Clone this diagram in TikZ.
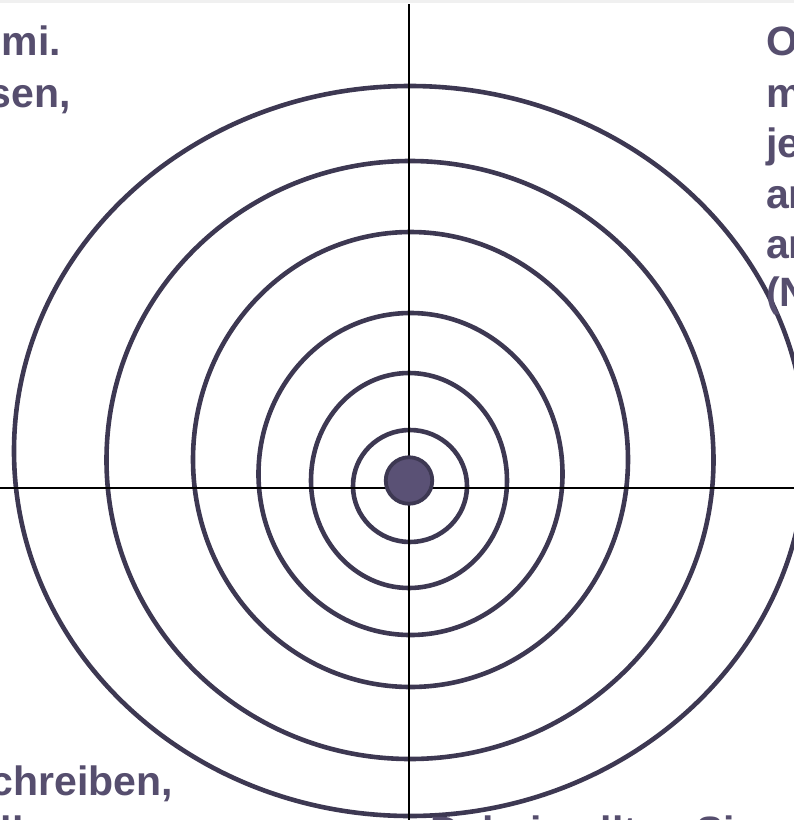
\documentclass[tikz,border=0pt]{standalone}
\usepackage{fontspec}
\setmainfont{Liberation Sans}
\usetikzlibrary{shapes.geometric}
\definecolor{ringc}{HTML}{3D3852}
\definecolor{txtc}{HTML}{564E6E}
\definecolor{dotc}{HTML}{5A5175}
\definecolor{bandc}{HTML}{F0F0F0}
\begin{document}
\begin{tikzpicture}[x=1pt,y=-1pt,
  ring/.style={ellipse, draw=ringc, line width=4.6pt, inner sep=0pt, outer sep=0pt},
  axisline/.style={black, line width=2.3pt},
  lbl/.style={font=\fontsize{41}{49}\selectfont\bfseries, text=txtc, inner sep=0pt, outer sep=0pt}]
\useasboundingbox (0,0) rectangle (794,820);
\clip (0,0) rectangle (794,820);
\fill[bandc] (0,0) rectangle (794,3);
% rings
\node[ring, minimum width=792pt, minimum height=730pt] (r6) at (410,451) {};
\node[ring, minimum width=607pt, minimum height=598pt] (r5) at (410,460) {};
\node[ring, minimum width=435pt, minimum height=455pt] (r4) at (410.5,459.5) {};
\node[ring, minimum width=304pt, minimum height=322pt] (r3) at (410.5,474) {};
\node[ring, minimum width=196pt, minimum height=215pt] (r2) at (409,480.5) {};
\node[ring, minimum width=114pt, minimum height=112pt] (r1) at (410,486) {};
% axes
\coordinate (vt) at (409,4);
\coordinate (vb) at (409,820);
\coordinate (hl) at (0,488);
\coordinate (hr) at (794,488);
\draw[axisline] (vt) -- (vb);
\draw[axisline] (hl) -- (hr);
% centre dot
\node[circle, fill=dotc, draw=ringc, line width=3.8pt, minimum size=46.5pt, inner sep=0pt] (dot) at (409,480.5) {};
% texts
\node[lbl, anchor=base east] (tl1) at (61,55) {mi.};
\node[lbl, anchor=base east] (tl2) at (71,107) {sen,};
\node[lbl, anchor=base west] (tr1) at (766,55) {Ordnen Sie};
\node[lbl, anchor=base west] (tr2) at (766,107) {markieren};
\node[lbl, anchor=base west] (tr3) at (766,157) {jeweils};
\node[lbl, anchor=base west] (tr4) at (766,208) {an};
\node[lbl, anchor=base west] (tr5) at (766,258) {an};
\node[lbl, anchor=base west] (tr6) at (766,306) {(N};
\node[lbl, anchor=base east] (bl1) at (173,795) {chreiben,};
\node[lbl, anchor=base west] (bl2) at (1,845) {llen};
\node[lbl, anchor=base west] (br1) at (430,845) {Dabei sollten Sie};
\end{tikzpicture}
\end{document}
